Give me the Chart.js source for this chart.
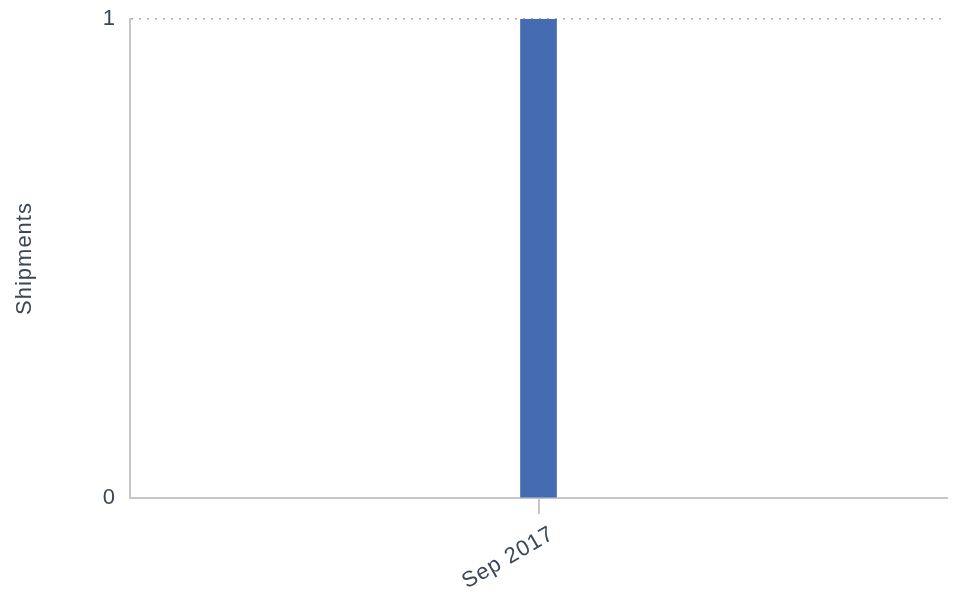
<!DOCTYPE html>
<html>
<head>
<meta charset="utf-8">
<script src="https://cdn.jsdelivr.net/npm/chart.js@4"></script>
<style>
  html, body { margin: 0; padding: 0; background: #fff; }
  #wrap { width: 956px; height: 594px; }
</style>
</head>
<body>
<div id="wrap"><canvas id="shipChart"></canvas></div>
<script>
// Chart data
const months = ['Sep 2017'];
const shipments = [1];
const yTicks = [0, 1];

const axisColor = '#c3c7cc';
const textColor = '#3a4757';
const fontFamily = 'Liberation Sans, Arial, sans-serif';

// the original text is set a little wider than Arial
const letterSpacing = {
    id: 'letterSpacing',
    beforeUpdate(chart) { chart.ctx.letterSpacing = '1px'; },
    beforeDraw(chart) { chart.ctx.letterSpacing = '1px'; }
};

function initShipChart() {
    const ctx = document.getElementById('shipChart').getContext('2d');
    new Chart(ctx, {
        type: 'bar',
        data: {
            labels: months,
            datasets: [{
                label: 'Shipments',
                data: shipments,
                backgroundColor: '#456bb1',
                barThickness: 36
            }]
        },
        plugins: [letterSpacing],
        options: {
            responsive: true,
            maintainAspectRatio: false,
            animation: false,
            layout: { padding: { top: 19, right: 9, left: 0, bottom: 0 } },
            plugins: {
                legend: { display: false },
                tooltip: { enabled: false }
            },
            scales: {
                x: {
                    grid: {
                        display: true,
                        offset: false,
                        drawOnChartArea: false,
                        drawTicks: true,
                        tickLength: 16,
                        color: axisColor,
                        lineWidth: 2
                    },
                    border: { display: true, color: axisColor, width: 2 },
                    ticks: {
                        color: textColor,
                        font: { family: fontFamily, size: 22 },
                        minRotation: 30,
                        maxRotation: 30,
                        padding: 7,
                        labelOffset: 14
                    },
                    afterFit: function(scale) { scale.height = 96; }
                },
                y: {
                    min: yTicks[0],
                    max: yTicks[yTicks.length - 1],
                    afterBuildTicks: function(scale) {
                        scale.ticks = yTicks.map(v => ({ value: v }));
                    },
                    grid: {
                        drawTicks: false,
                        color: ctx => ctx.tick && ctx.tick.value === 0 ? 'rgba(0,0,0,0)' : '#a9adb2',
                        lineWidth: 1.5
                    },
                    border: { display: true, color: axisColor, width: 2, dash: [2, 6] },
                    ticks: {
                        color: textColor,
                        font: { family: fontFamily, size: 22 },
                        padding: 14
                    },
                    title: {
                        display: true,
                        text: 'Shipments',
                        color: textColor,
                        font: { family: fontFamily, size: 22 },
                        padding: { top: 12, bottom: 0 }
                    },
                    afterFit: function(scale) {
                        scale.width = 130;
                        scale.paddingTop = 0;
                        scale.paddingBottom = 0;
                    }
                }
            }
        }
    });
}

initShipChart();
</script>
</body>
</html>
